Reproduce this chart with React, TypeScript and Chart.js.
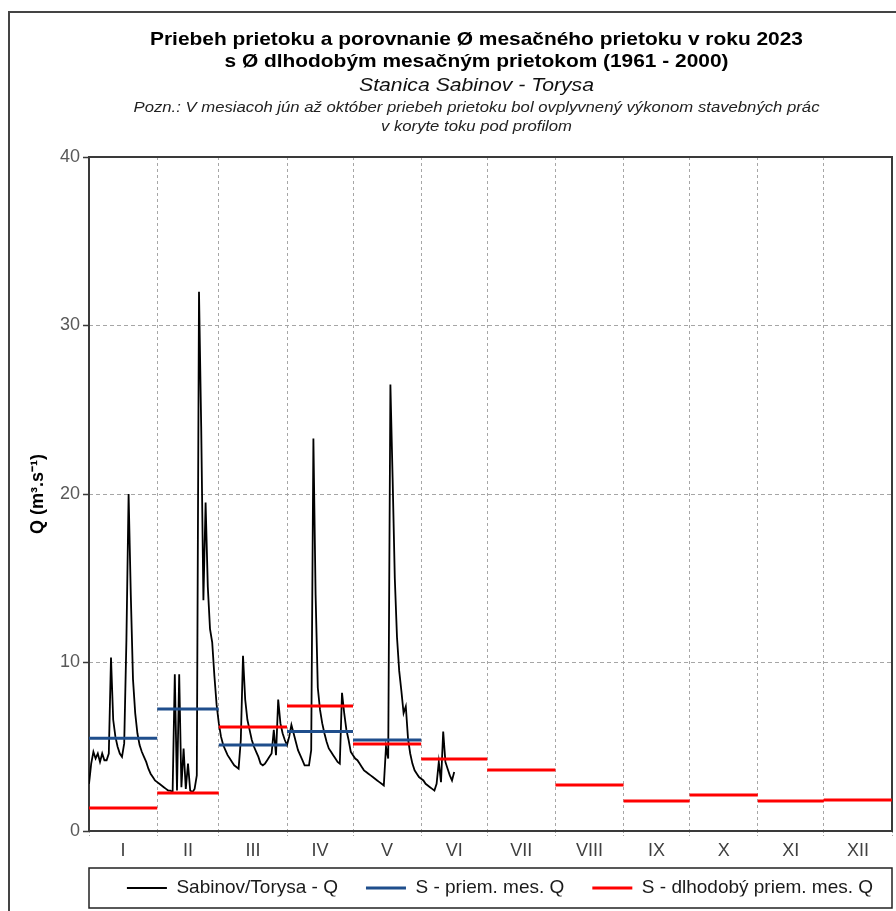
import React, { useEffect, useRef } from 'react';
import { Chart, registerables } from 'chart.js';

Chart.register(...registerables);

// ---------------- DATA ----------------
const MONTH_LABELS = ['I', 'II', 'III', 'IV', 'V', 'VI', 'VII', 'VIII', 'IX', 'X', 'XI', 'XII'];
const MONTH_LENGTHS = [31, 28, 31, 30, 31, 30, 31, 31, 30, 31, 30, 31];

// daily discharge 2023 (m3/s), 1 Jan .. 16 Jun
const Q_JAN = [2.8, 4.0, 4.7, 4.3, 4.6, 4.1, 4.6, 4.2, 4.2, 4.6, 10.3, 6.6, 5.6, 5.0, 4.6, 4.4, 5.2, 11.3, 20.0, 14.0, 9.0, 7.0, 5.8, 5.1, 4.7, 4.4, 4.1, 3.7, 3.4, 3.2, 3.0];
const Q_FEB = [2.9, 2.8, 2.7, 2.6, 2.5, 2.4, 2.4, 2.3, 9.3, 2.4, 9.3, 2.6, 4.9, 2.5, 4.0, 2.4, 2.3, 2.5, 3.3, 32.0, 24.0, 13.7, 19.5, 14.5, 12.0, 11.2, 9.2, 7.5];
const Q_MAR = [6.4, 5.6, 5.1, 4.8, 4.5, 4.3, 4.1, 3.9, 3.8, 3.7, 5.4, 10.4, 7.8, 6.6, 6.0, 5.4, 5.0, 4.7, 4.4, 4.0, 3.9, 4.0, 4.2, 4.4, 4.6, 6.0, 4.5, 7.8, 6.4, 5.8, 5.4];
const Q_APR = [5.1, 5.6, 6.3, 5.8, 5.3, 4.8, 4.5, 4.2, 3.9, 3.9, 3.9, 4.8, 23.3, 14.0, 8.5, 7.2, 6.4, 5.8, 5.3, 4.9, 4.7, 4.5, 4.3, 4.1, 4.0, 8.2, 7.0, 6.0, 5.4, 4.7];
const Q_MAY = [4.5, 4.3, 4.2, 4.0, 3.8, 3.6, 3.5, 3.4, 3.3, 3.2, 3.1, 3.0, 2.9, 2.8, 2.7, 5.0, 4.3, 26.5, 21.0, 15.0, 11.5, 9.5, 8.3, 7.0, 7.4, 5.5, 4.6, 4.0, 3.6, 3.4, 3.2];
const Q_JUN = [3.1, 3.0, 2.8, 2.7, 2.6, 2.5, 2.4, 2.8, 4.1, 2.9, 5.9, 4.1, 3.7, 3.3, 3.0, 3.5];
const DAILY_Q_2023 = [...Q_JAN, ...Q_FEB, ...Q_MAR, ...Q_APR, ...Q_MAY, ...Q_JUN];

// monthly mean 2023 (Jan..May)
const MONTHLY_MEAN_2023 = [5.5, 7.24, 5.1, 5.9, 5.4];
// long-term monthly mean 1961-2000
const MONTHLY_MEAN_LONGTERM = [1.37, 2.25, 6.17, 7.42, 5.16, 4.27, 3.62, 2.73, 1.78, 2.14, 1.78, 1.84];

const SERIES_NAMES = ['Sabinov/Torysa - Q', 'S - priem. mes. Q', 'S - dlhodobý priem. mes. Q'];

const TITLE_LINES = [
  'Priebeh prietoku a porovnanie Ø mesačného prietoku v roku 2023',
  's Ø dlhodobým mesačným prietokom (1961 - 2000)',
  'Stanica Sabinov - Torysa',
  'Pozn.: V mesiacoh jún až október priebeh prietoku bol ovplyvnený výkonom stavebných prác',
  'v koryte toku pod profilom',
];
const Y_TITLE = 'Q (m³.s⁻¹)';
const Y_MIN = 0;
const Y_MAX = 40;
const Y_STEP = 10;

// ---------------- derived ----------------
const MONTH_STARTS: number[] = [0];
MONTH_LENGTHS.forEach((d, i) => MONTH_STARTS.push(MONTH_STARTS[i] + d));
const MONTH_CENTERS = MONTH_LENGTHS.map((d, i) => MONTH_STARTS[i] + d / 2);
const X_TICKS = [...MONTH_STARTS, ...MONTH_CENTERS].sort((a, b) => a - b);
const isBoundary = (v: number) => MONTH_STARTS.includes(v);

function monthSegments(values: number[]) {
  const pts: { x: number; y: number | null }[] = [];
  values.forEach((v, i) => {
    pts.push({ x: MONTH_STARTS[i], y: v });
    pts.push({ x: MONTH_STARTS[i + 1], y: v });
    pts.push({ x: MONTH_STARTS[i + 1], y: null });
  });
  return pts;
}

const FONT = '"Liberation Sans", Arial, Helvetica, sans-serif';
const GRID_COLOR = '#a6a6a6';
const FRAME_COLOR = '#3a3a3a';
const LEGEND_FONT_SIZE = 19;
const LEGEND_PADDING = 28;
const LEGEND_TEXT_Y = 888;
const LEGEND_SHIFT_X = 9.5;

const TITLE_STYLE = [
  { font: `bold 19px ${FONT}`, y: 40, w: 653, color: '#000' },
  { font: `bold 19px ${FONT}`, y: 62, w: 504, color: '#000' },
  { font: `italic 18px ${FONT}`, y: 86, w: 235, color: '#111' },
  { font: `italic 15px ${FONT}`, y: 108, w: 686, color: '#222' },
  { font: `italic 15px ${FONT}`, y: 127, w: 191, color: '#222' },
];
const TITLE_CX = 476.5;

const decorPlugin = {
  id: 'decor',
  beforeLayout(chart: any) {
    const lg = chart.legend;
    if (lg && !lg.__patched) {
      const orig = lg.fit;
      lg.fit = function () {
        orig.call(this);
        this.height = 46;
      };
      lg.__patched = true;
    }
  },
  afterLayout(chart: any) {
    const lg = chart.legend;
    if (!lg) return;
    const top = LEGEND_TEXT_Y - LEGEND_PADDING - LEGEND_FONT_SIZE / 2;
    const dy = top - lg.top;
    lg.top += dy;
    lg.bottom += dy;
    lg.left += LEGEND_SHIFT_X;
    lg.right += LEGEND_SHIFT_X;
  },
  beforeDraw(chart: any) {
    const { ctx } = chart;
    ctx.save();
    ctx.fillStyle = '#fff';
    ctx.fillRect(0, 0, chart.width, chart.height);
    ctx.strokeStyle = '#444';
    ctx.lineWidth = 2;
    ctx.beginPath();
    ctx.moveTo(9, chart.height);
    ctx.lineTo(9, 12);
    ctx.lineTo(chart.width, 12);
    ctx.stroke();
    ctx.restore();
  },
  beforeDatasetsDraw(chart: any) {
    const { ctx, chartArea: a } = chart;
    ctx.save();
    ctx.strokeStyle = FRAME_COLOR;
    ctx.lineWidth = 2;
    ctx.strokeRect(a.left, a.top, a.right - a.left, a.bottom - a.top);
    ctx.restore();
  },
  afterDraw(chart: any) {
    const { ctx, chartArea: a } = chart;
    ctx.save();
    TITLE_LINES.forEach((t, i) => {
      const s = TITLE_STYLE[i];
      ctx.font = s.font;
      const w = ctx.measureText(t).width;
      const sx = s.w / w;
      ctx.save();
      ctx.translate(TITLE_CX, s.y);
      ctx.scale(sx, 1);
      ctx.fillStyle = s.color;
      ctx.textAlign = 'center';
      ctx.textBaseline = 'middle';
      ctx.fillText(t, 0, 0);
      ctx.restore();
    });
    // legend frame
    ctx.strokeStyle = '#222';
    ctx.lineWidth = 1.5;
    ctx.strokeRect(a.left, LEGEND_TEXT_Y - 20, a.right - a.left, 40);
    ctx.restore();
  },
};

export default function App() {
  const ref = useRef<HTMLCanvasElement | null>(null);

  useEffect(() => {
    if (!ref.current) return;
    const chart = new Chart(ref.current, {
      type: 'line',
      data: {
        datasets: [
          {
            label: SERIES_NAMES[0],
            data: DAILY_Q_2023.map((v, i) => ({ x: i, y: v })),
            borderColor: '#000',
            backgroundColor: '#000',
            borderWidth: 1.8,
            pointRadius: 0,
            tension: 0,
            order: 3,
          },
          {
            label: SERIES_NAMES[1],
            data: monthSegments(MONTHLY_MEAN_2023),
            borderColor: '#1f4e8c',
            backgroundColor: '#1f4e8c',
            borderWidth: 3,
            pointRadius: 0,
            spanGaps: false,
            order: 2,
          },
          {
            label: SERIES_NAMES[2],
            data: monthSegments(MONTHLY_MEAN_LONGTERM),
            borderColor: '#ff0000',
            backgroundColor: '#ff0000',
            borderWidth: 3,
            pointRadius: 0,
            spanGaps: false,
            order: 1,
          },
        ],
      },
      options: {
        responsive: false,
        animation: false,
        layout: { padding: { top: 157, left: 0, right: 3, bottom: 3.5 } },
        plugins: {
          title: { display: false },
          tooltip: { enabled: false },
          legend: {
            display: true,
            position: 'bottom',
            fullSize: false,
            labels: {
              usePointStyle: true,
              pointStyle: 'line',
              pointStyleWidth: 40,
              padding: LEGEND_PADDING,
              color: '#1a1a1a',
              font: { family: FONT, size: LEGEND_FONT_SIZE },
              sort: (a: any, b: any) => a.datasetIndex - b.datasetIndex,
            },
          },
        },
        scales: {
          x: {
            type: 'linear',
            min: 0,
            max: 365,
            afterBuildTicks: (s: any) => {
              s.ticks = X_TICKS.map((v) => ({ value: v }));
            },
            afterFit: (s: any) => {
              s.height = 30.5;
            },
            ticks: {
              autoSkip: false,
              maxRotation: 0,
              minRotation: 0,
              padding: 4,
              color: '#404040',
              font: { family: FONT, size: 18 },
              callback: (v: any) => {
                const i = MONTH_CENTERS.indexOf(Number(v));
                return i >= 0 ? MONTH_LABELS[i] : '';
              },
            },
            grid: {
              color: (c: any) => (c.tick && isBoundary(c.tick.value) ? GRID_COLOR : 'rgba(0,0,0,0)'),
              tickColor: (c: any) => (c.tick && isBoundary(c.tick.value) ? GRID_COLOR : 'rgba(0,0,0,0)'),
              lineWidth: 1,
              tickLength: 5,
              tickBorderDash: [2, 2],
            },
            border: { display: false, dash: [3, 3] },
          },
          y: {
            type: 'linear',
            min: Y_MIN,
            max: Y_MAX,
            afterFit: (s: any) => {
              s.width = 89;
            },
            ticks: {
              stepSize: Y_STEP,
              padding: 3,
              color: '#595959',
              font: { family: FONT, size: 18 },
            },
            grid: {
              color: GRID_COLOR,
              lineWidth: 1,
              tickColor: FRAME_COLOR,
              tickLength: 6,
              tickWidth: 1.5,
              tickBorderDash: [],
            },
            border: { display: false, dash: [4, 3] },
            title: {
              display: true,
              text: Y_TITLE,
              color: '#000',
              font: { family: FONT, size: 18, weight: 'bold' },
              padding: { top: 27, bottom: 0 },
            },
          },
        },
      },
      plugins: [decorPlugin],
    } as any);
    return () => chart.destroy();
  }, []);

  return (
    <div style={{ position: 'absolute', left: 0, top: 0, width: 896, height: 911, background: '#fff' }}>
      <canvas ref={ref} width={896} height={911} style={{ width: 896, height: 911, display: 'block' }} />
    </div>
  );
}
